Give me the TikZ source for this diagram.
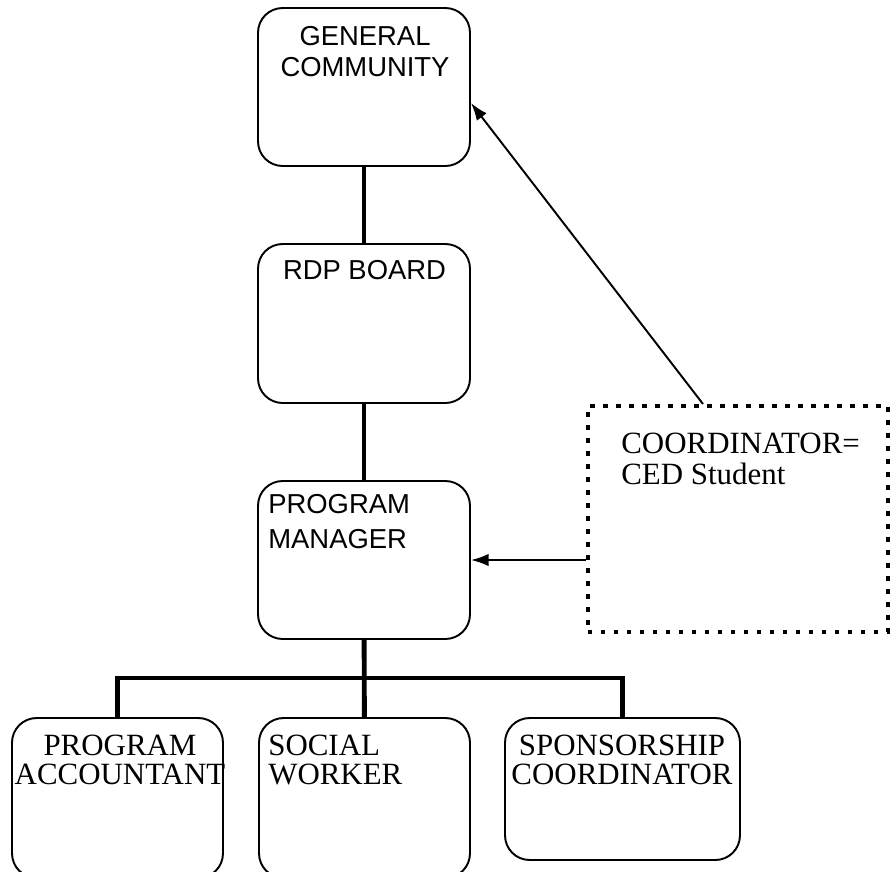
\documentclass[tikz,border=0pt]{standalone}
\usepackage{fontspec}
\setmainfont{Liberation Serif}
\setsansfont{Liberation Sans}
\usetikzlibrary{arrows.meta, positioning}

\tikzset{
  orgbox/.style={draw, line width=1.1pt, rounded corners=14pt, inner sep=0pt,
    minimum width=4.24cm, minimum height=3.16cm},
  coordbox/.style={draw, line width=2.3pt, dash pattern=on 2.5pt off 4.9pt, inner sep=0pt,
    minimum width=6cm, minimum height=4.52cm},
  sanslbl/.style={font=\sffamily\fontsize{15.6}{17.6}\selectfont, inner sep=0pt},
  seriflbl/.style={font=\fontsize{17.6}{16.4}\selectfont, inner sep=0pt},
  orgline/.style={line width=2.8pt},
  pointer/.style={line width=1.1pt, -{Latex[length=10pt,width=7pt]}}
}

\begin{document}
\begin{tikzpicture}[x=0.02cm, y=-0.02cm]
        \useasboundingbox (0,0) rectangle (893,872);

        % boxes
        \node[orgbox] (gc) at (364,87) {};
        \node[orgbox, minimum height=3.18cm] (rdp) at (364,323.5) {};
        \node[orgbox] (pm) at (364,560) {};
        \node[orgbox, minimum width=4.22cm, minimum height=3.2cm] (pa) at (117.5,798) {};
        \node[orgbox, minimum width=4.22cm, minimum height=3.2cm] (sw) at (364.5,798) {};
        \node[orgbox, minimum width=4.7cm, minimum height=2.84cm] (sc) at (622.5,789) {};
        \node[coordbox] (coord) at (738,519) {};

        % texts (base = last line)
        \node[sanslbl, anchor=base, align=center] (gctext) at (365,76) {GENERAL\\COMMUNITY};
        \node[sanslbl, anchor=base] (rdptext) at (364.5,279) {RDP BOARD};
        \node[sanslbl, anchor=base west, align=left] (pmtext) at (268,548) {PROGRAM\\[2pt]MANAGER};
        \node[seriflbl, anchor=base, align=center] (patext) at (120,784) {PROGRAM\\ACCOUNTANT};
        \node[seriflbl, anchor=base west, align=left] (swtext) at (268,784) {SOCIAL\\WORKER};
        \node[seriflbl, anchor=base, align=center] (sctext) at (622,784) {SPONSORSHIP\\COORDINATOR};
        \node[seriflbl, anchor=base west, align=left] (coordtext) at (621,484) {COORDINATOR=\\[1pt]CED Student};

        % lines
        \coordinate (bar) at (364,678);
        \draw[orgline] (gc) -- (rdp);
        \draw[orgline] (rdp) -- (pm);
        \draw[orgline] (pm) -- (sw);
        \draw[orgline] (pa.north) -- (pa.north |- bar) -| (sc.north);

        \draw[pointer] ([xshift=-0.7cm]coord.north) -- ([yshift=-0.32cm]gc.east);
        \draw[pointer] (coord.west |- pm.east) -- (pm.east);
    \end{tikzpicture}
\end{document}
